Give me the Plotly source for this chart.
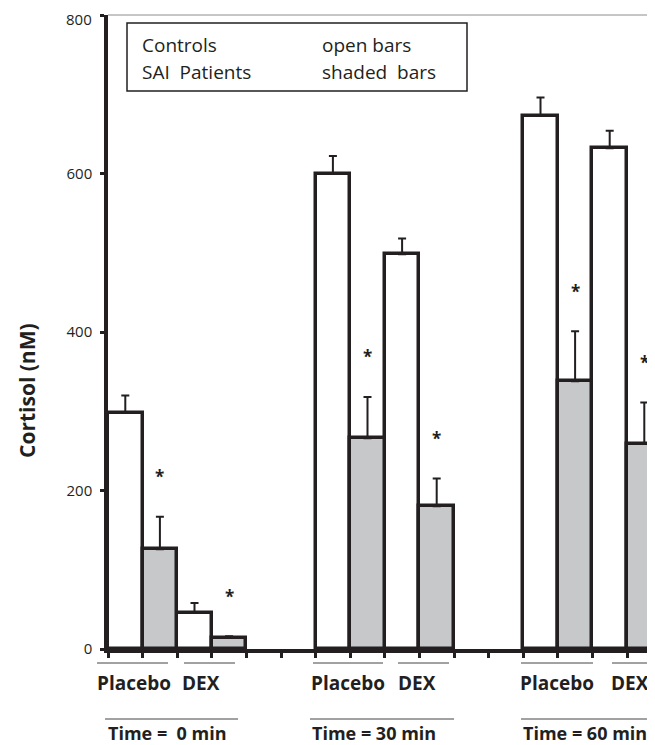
import plotly.graph_objects as go

# ---- data ----
time_labels = ["Time =  0 min", "Time = 30 min", "Time = 60 min"]
treatments = ["Placebo", "DEX"]
controls = [298, 46, 600, 498, 673, 632]
controls_err = [22, 12, 22, 20, 23, 22]
sai = [126, 14, 266, 180, 338, 259]
sai_err = [41, 2, 52, 35, 63, 52]
y_ticks = [0, 200, 400, 600, 800]

# ---- layout constants (page body has an 8px margin) ----
OFF = 8
W, H = 655 - OFF, 745 - OFF
PLOT_L, PLOT_R, PLOT_T, PLOT_B = 108, 655, 15, 649   # screen pixels
ML = PLOT_L - OFF
MR = (W + OFF) - PLOT_R
MT = PLOT_T - OFF
MB = (H + OFF) - PLOT_B
PW = PLOT_R - PLOT_L
PH = PLOT_B - PLOT_T
SLOT = 34.6
XMAX = PW / SLOT
INK = "#231f20"
GRAY = "#c7c8ca"
FONT = "Open Sans"

def px_to_paper_x(px):
    return (px - PLOT_L) / PW

def px_to_paper_y(py):
    return (PLOT_B - py) / PH

# slot positions: each group occupies 4 slots then 2 empty
ctrl_x, sai_x = [], []
for g in range(len(time_labels)):
    for k in range(len(treatments)):
        base = g * 6 + k * 2
        ctrl_x.append(base + 0.5)
        sai_x.append(base + 1.5)

fig = go.Figure()
fig.add_trace(go.Bar(
    x=ctrl_x, y=controls, width=1,
    marker=dict(color="white", line=dict(color=INK, width=3.5)),
    error_y=dict(type="data", symmetric=False, array=controls_err,
                 arrayminus=[0] * len(controls), color=INK, thickness=2, width=4),
    name="Controls", showlegend=False,
))
fig.add_trace(go.Bar(
    x=sai_x, y=sai, width=1,
    marker=dict(color=GRAY, line=dict(color=INK, width=3.5)),
    error_y=dict(type="data", symmetric=False, array=sai_err,
                 arrayminus=[0] * len(sai), color=INK, thickness=2, width=4),
    name="SAI Patients", showlegend=False,
))

annotations = []
# significance asterisks above SAI bars
for xv, v, e in zip(sai_x, sai, sai_err):
    annotations.append(dict(x=xv, y=v + e, xref="x", yref="y", text="<b>*</b>",
                            showarrow=False, yanchor="middle", yshift=40,
                            font=dict(family=FONT, size=17, color=INK)))

shapes = []
# top frame line
shapes.append(dict(type="line", xref="paper", yref="paper", x0=0, x1=1, y0=1, y1=1,
                   line=dict(color="#8c8c8c", width=1), layer="below"))

# group labels (pixel-based placement, per group)
plac_lines = [(97, 168), (313, 383), (521, 593)]
dex_lines = [(184, 235), (398, 449), (612, 670)]
time_lines = [(105, 238), (310, 454), (521, 670)]
plac_text_c = [133.5, 348, 557]
dex_text_c = [201, 417, 630]
time_text_l = [106, 310, 521]

y_l1 = px_to_paper_y(663)
y_l2 = px_to_paper_y(719)
y_t1 = px_to_paper_y(683)
y_t2 = px_to_paper_y(733)
LBL = 19
for g in range(3):
    for (a, b) in (plac_lines[g], dex_lines[g]):
        shapes.append(dict(type="line", xref="paper", yref="paper",
                           x0=px_to_paper_x(a), x1=px_to_paper_x(b), y0=y_l1, y1=y_l1,
                           line=dict(color="#444", width=1)))
    a, b = time_lines[g]
    shapes.append(dict(type="line", xref="paper", yref="paper",
                       x0=px_to_paper_x(a), x1=px_to_paper_x(b), y0=y_l2, y1=y_l2,
                       line=dict(color="#444", width=1)))
    annotations.append(dict(x=px_to_paper_x(plac_text_c[g]), y=y_t1, xref="paper", yref="paper",
                            text="<b>" + treatments[0] + "</b>", showarrow=False,
                            xanchor="center", yanchor="middle",
                            font=dict(family=FONT, size=LBL, color=INK)))
    annotations.append(dict(x=px_to_paper_x(dex_text_c[g]), y=y_t1, xref="paper", yref="paper",
                            text="<b>" + treatments[1] + "</b>", showarrow=False,
                            xanchor="center", yanchor="middle",
                            font=dict(family=FONT, size=LBL, color=INK)))
    annotations.append(dict(x=px_to_paper_x(time_text_l[g]), y=y_t2, xref="paper", yref="paper",
                            text="<b>" + time_labels[g].replace("  ", "&nbsp; ") + "</b>",
                            showarrow=False, xanchor="left", yanchor="middle",
                            font=dict(family=FONT, size=LBL - 1, color=INK)))

# legend box
shapes.append(dict(type="rect", xref="paper", yref="paper",
                   x0=px_to_paper_x(127), x1=px_to_paper_x(467),
                   y0=px_to_paper_y(91), y1=px_to_paper_y(23),
                   line=dict(color=INK, width=1.5), fillcolor="white"))
legend_rows = [("Controls", "open bars", 45), ("SAI&nbsp; Patients", "shaded&nbsp; bars", 72)]
for left, right, yy in legend_rows:
    annotations.append(dict(x=px_to_paper_x(140), y=px_to_paper_y(yy), xref="paper", yref="paper",
                            text=left, showarrow=False, xanchor="left", yanchor="middle",
                            font=dict(family=FONT, size=19, color=INK)))
    annotations.append(dict(x=px_to_paper_x(320), y=px_to_paper_y(yy), xref="paper", yref="paper",
                            text=right, showarrow=False, xanchor="left", yanchor="middle",
                            font=dict(family=FONT, size=19, color=INK)))

# y-axis title
annotations.append(dict(x=px_to_paper_x(27), y=px_to_paper_y(391), xref="paper", yref="paper",
                        text="<b>Cortisol (nM)</b>", textangle=-90, showarrow=False,
                        xanchor="center", yanchor="middle",
                        font=dict(family=FONT, size=21, color=INK)))

# top tick label drawn as an annotation so it stays inside the page
annotations.append(dict(x=px_to_paper_x(93), y=1, xref="paper", yref="paper",
                        text=str(y_ticks[-1]), showarrow=False, xanchor="right",
                        yanchor="top", yshift=PLOT_T - OFF, borderpad=0,
                        font=dict(family=FONT, size=15, color=INK)))
tick_text = [str(v) for v in y_ticks[:-1]] + [""]

fig.update_layout(
    width=W, height=H,
    margin=dict(l=ML, r=MR, t=MT, b=MB, pad=0, autoexpand=False),
    paper_bgcolor="white", plot_bgcolor="white",
    barmode="overlay", bargap=0,
    font=dict(family=FONT, color=INK),
    shapes=shapes, annotations=annotations,
    xaxis=dict(range=[0, XMAX], showgrid=False, zeroline=False, automargin=False,
               showline=True, linecolor=INK, linewidth=3.5,
               ticks="outside", tickvals=list(range(16)), ticklen=5, tickwidth=2.5,
               tickcolor=INK, showticklabels=False, fixedrange=True),
    yaxis=dict(range=[0, 800], showgrid=False, zeroline=False, automargin=False,
               showline=True, linecolor=INK, linewidth=3.5,
               ticks="outside", tickvals=y_ticks, ticktext=tick_text, ticklen=4, tickwidth=3,
               tickcolor=INK, tickfont=dict(family=FONT, size=15, color=INK),
               ticklabelstandoff=5, fixedrange=True),
)

fig.write_html("out.html")
